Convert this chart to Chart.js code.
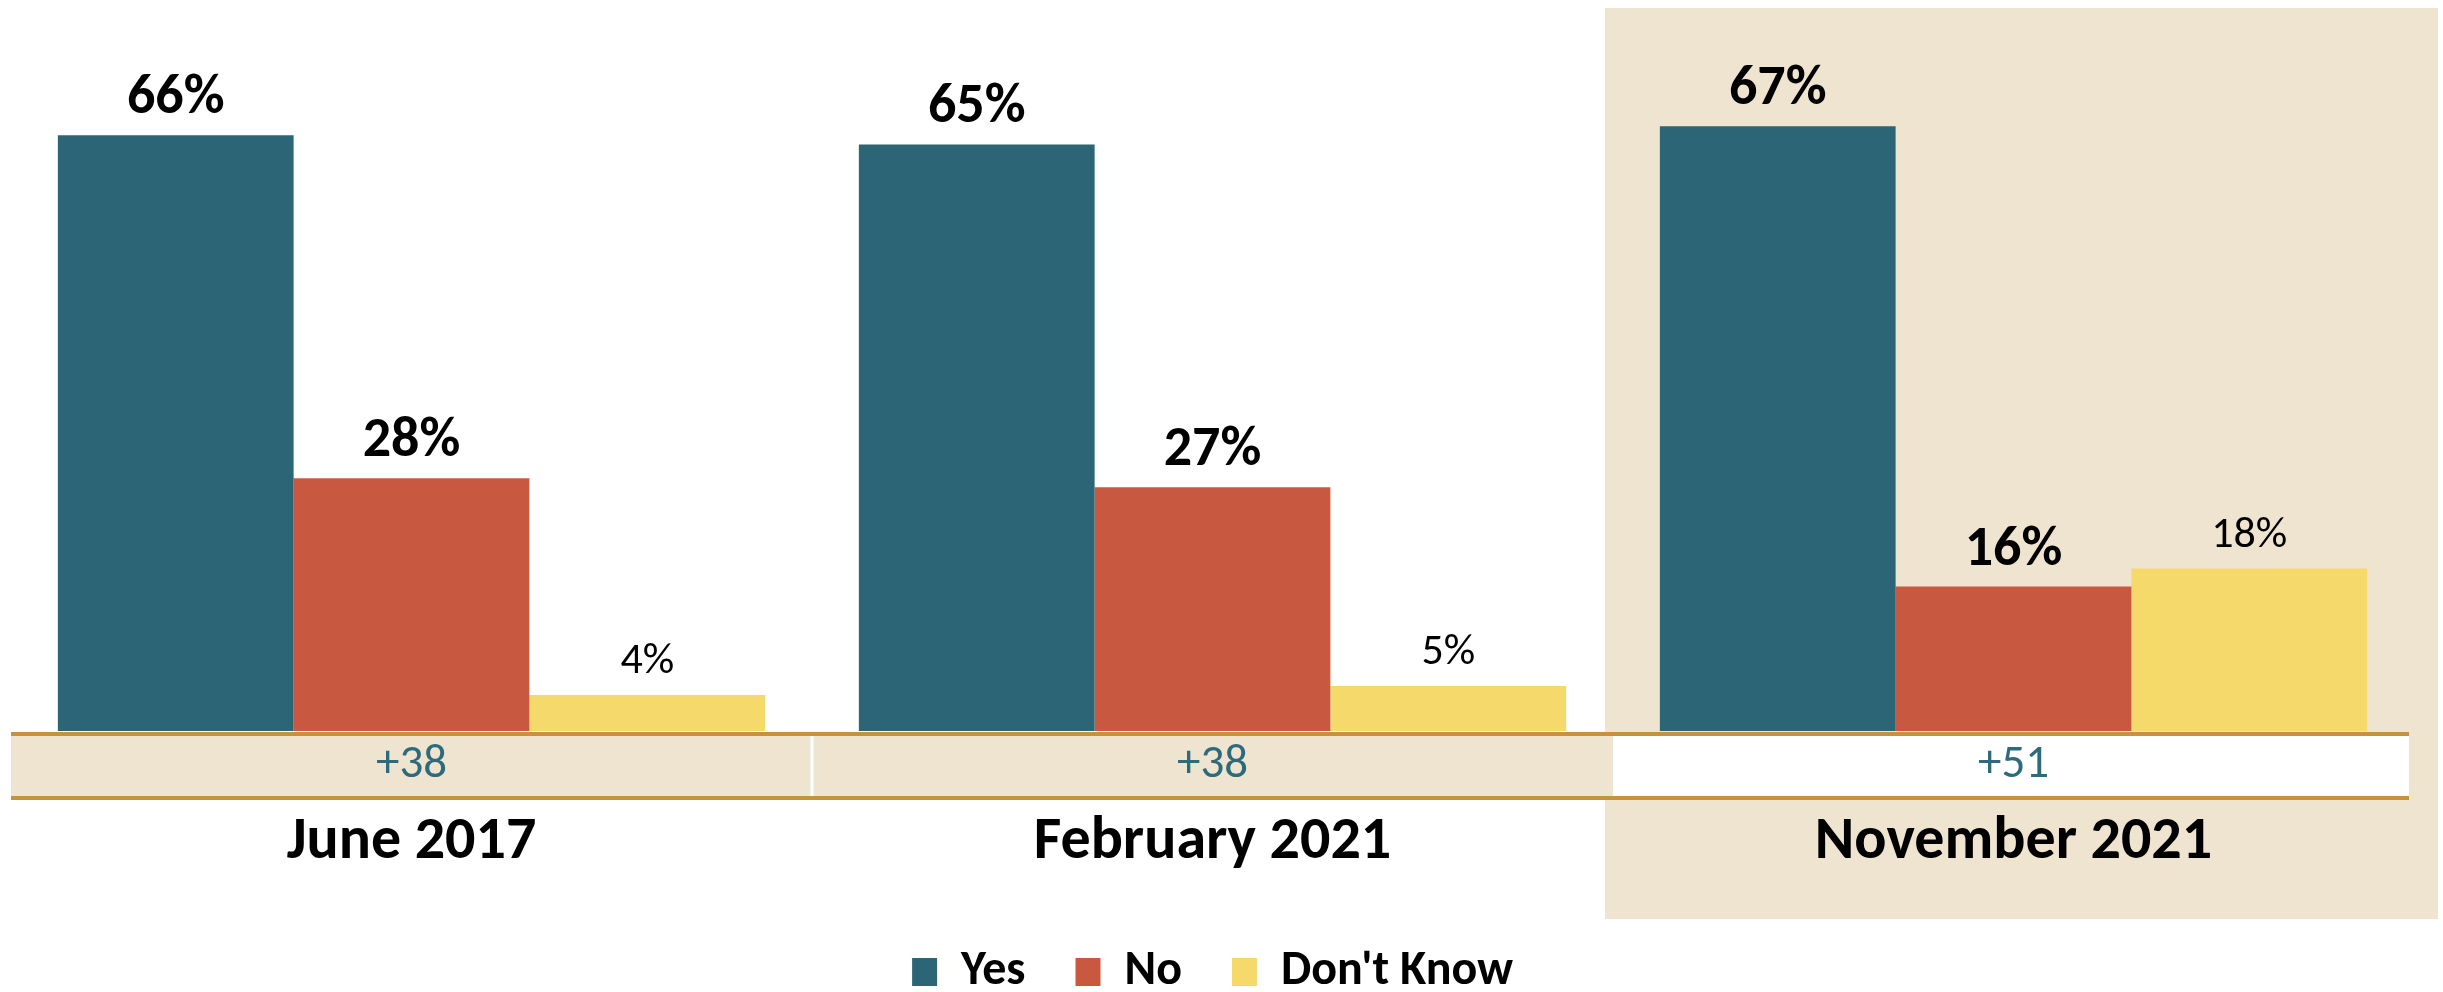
<!DOCTYPE html>
<html>
<head>
<meta charset="utf-8">
<script src="https://cdn.jsdelivr.net/npm/chart.js@4"></script>
<style>
  html, body { margin: 0; padding: 0; background: #fff; }
  #wrap { width: 2443px; height: 992px; }
</style>
</head>
<body>
<div id="wrap"><canvas id="chart"></canvas></div>
<script>
// survey waves and answers
const waves = ["June 2017", "February 2021", "November 2021"];
const yesValues = [66, 65, 67];
const noValues = [28, 27, 16];
const dontKnowValues = [4, 5, 18];
const seriesNames = ["Yes", "No", "Don't Know"];
const seriesColors = ["#2b6576", "#c95840", "#f5da6b"];
const highlightWave = 2; // latest wave gets the beige panel

const FONT = "Carlito, 'Liberation Sans Narrow', Lato, sans-serif";
const BEIGE = "#efe4cf";
const GOLD = "#c6923f";

// beige panel behind the latest wave
const highlightPanel = {
  id: "highlightPanel",
  beforeDraw(chart) {
    const { ctx, chartArea, scales } = chart;
    const x = scales.x;
    const step = x.width / waves.length;
    const left = x.getPixelForValue(highlightWave) - step / 2 - 8;
    ctx.save();
    ctx.fillStyle = BEIGE;
    ctx.fillRect(left, chartArea.top - 1, chart.width - 5 - left, 920 - chartArea.top);
    ctx.restore();
  }
};

// net (yes minus no) strip under the bars
const netRow = {
  id: "netRow",
  afterDatasetsDraw(chart) {
    const { ctx, chartArea, scales } = chart;
    const x = scales.x;
    const step = x.width / waves.length;
    const top = chartArea.bottom + 3;
    const bottom = chartArea.bottom + 67;
    const right = chartArea.right - 5;
    ctx.save();
    waves.forEach((w, i) => {
      const c = x.getPixelForValue(i);
      const l = c - step / 2;
      const r = Math.min(c + step / 2, right);
      ctx.fillStyle = i === highlightWave ? "#ffffff" : BEIGE;
      ctx.fillRect(l, top, r - l, bottom - top);
      if (i > 0 && i !== highlightWave) {
        ctx.fillStyle = "#ffffff";
        ctx.fillRect(l - 1.5, top, 3, bottom - top);
      }
      const net = yesValues[i] - noValues[i];
      ctx.fillStyle = "#2d6a7c";
      ctx.font = "47px " + FONT;
      ctx.textAlign = "center";
      ctx.textBaseline = "middle";
      ctx.fillText((net > 0 ? "+" : "") + net, c, (top + bottom) / 2 - 1);
    });
    ctx.fillStyle = GOLD;
    ctx.fillRect(chartArea.left, top - 2, right - chartArea.left, 4);
    ctx.fillRect(chartArea.left, bottom - 2, right - chartArea.left, 4);
    ctx.restore();
  }
};

// percent labels above each bar
const valueLabels = {
  id: "valueLabels",
  afterDatasetsDraw(chart) {
    const { ctx } = chart;
    ctx.save();
    ctx.fillStyle = "#000";
    ctx.textAlign = "center";
    ctx.textBaseline = "alphabetic";
    chart.data.datasets.forEach((ds, di) => {
      ctx.font = di === 2 ? "44px " + FONT : "bold 56px " + FONT;
      chart.getDatasetMeta(di).data.forEach((bar, i) => {
        ctx.fillText(ds.data[i] + "%", bar.x, bar.y - 22);
      });
    });
    ctx.restore();
  }
};

new Chart(document.getElementById("chart"), {
  type: "bar",
  data: {
    labels: waves,
    datasets: [
      { label: seriesNames[0], data: yesValues, backgroundColor: seriesColors[0] },
      { label: seriesNames[1], data: noValues, backgroundColor: seriesColors[1] },
      { label: seriesNames[2], data: dontKnowValues, backgroundColor: seriesColors[2] }
    ]
  },
  options: {
    responsive: true,
    maintainAspectRatio: false,
    animation: false,
    layout: { padding: { left: 11, right: 29, top: 9, bottom: 0 } },
    datasets: {
      bar: { categoryPercentage: 0.883, barPercentage: 1.0, borderWidth: 0 }
    },
    scales: {
      x: {
        grid: { display: false, drawTicks: false },
        border: { display: false },
        ticks: {
          color: "#000",
          font: { family: FONT, size: 60, weight: "bold" },
          padding: 76,
          maxRotation: 0
        },
        // room for the net strip, the wave name and a gap before the legend
        afterFit(scale) { scale.height = 76 + 72 + 19; }
      },
      y: { display: false, min: 0, max: 80 }
    },
    plugins: {
      legend: {
        position: "bottom",
        maxHeight: 94,
        labels: {
          boxWidth: 25,
          boxHeight: 28,
          padding: 50,
          color: "#000",
          font: { family: FONT, size: 48, weight: "bold" }
        }
      },
      tooltip: { enabled: false }
    }
  },
  plugins: [highlightPanel, netRow, valueLabels]
});
</script>
</body>
</html>
